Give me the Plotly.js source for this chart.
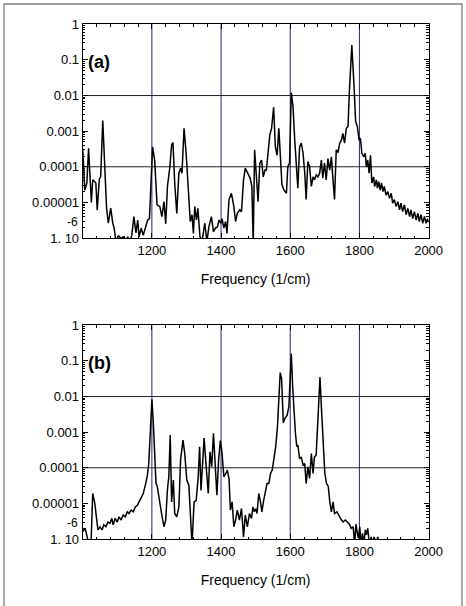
<!DOCTYPE html>
<html>
<head>
<meta charset="utf-8">
<script src="https://cdn.plot.ly/plotly-3.0.1.min.js"></script>
<style>html,body{margin:0;padding:0;background:#fff;}#chart{width:466px;height:606px;}</style>
</head>
<body>
<div id="chart"></div>
<script>
// ---------- data ----------
const freqA = [1000,1006,1012,1017,1025,1029,1038,1042,1048,1052,1058,1064,1069,1074,1081,1087,1091,1096,1103,1110,1117,1123,1130,1137,1142,1148,1154,1159,1163,1169,1175,1181,1188,1193,1202,1208,1215,1223,1229,1235,1240,1245,1252,1257,1261,1266,1272,1278,1283,1287,1293,1299,1305,1311,1316,1320,1324,1329,1333,1339,1345,1353,1359,1365,1372,1378,1384,1390,1394,1399,1403,1408,1413,1417,1423,1430,1437,1442,1447,1454,1459,1465,1470,1478,1484,1489,1493,1497,1502,1507,1512,1517,1522,1527,1531,1536,1541,1546,1552,1557,1562,1567,1571,1576,1582,1589,1593,1598,1603,1608,1613,1618,1622,1627,1632,1637,1642,1646,1651,1656,1661,1666,1670,1675,1680,1685,1690,1694,1699,1704,1709,1714,1719,1723,1728,1733,1738,1743,1748,1752,1757,1762,1767,1771,1778,1784,1789,1794,1799,1803,1807,1813,1817,1820,1824,1828,1832,1836,1841,1844,1849,1852,1856,1860,1864,1868,1872,1877,1882,1887,1892,1896,1901,1906,1911,1916,1920,1925,1930,1935,1940,1945,1949,1954,1959,1964,1969,1973,1978,1983,1988,1993,1997,2000];
const intensityA = [3.3e-4,2.2e-5,3.5e-5,3.3e-4,1.0e-5,4.3e-5,3.5e-5,6e-6,4.5e-5,5.2e-5,2.0e-3,5.2e-5,6.9e-6,2.6e-6,6.9e-6,2.6e-6,1.9e-6,8e-7,1.15e-6,1.0e-6,1.07e-6,8e-7,1.07e-6,8e-7,1.2e-6,4.0e-6,1.4e-6,3.2e-6,1.07e-6,1.9e-6,1.2e-6,1.9e-6,3.2e-6,3.5e-6,3.6e-4,1.55e-4,8.5e-6,7.6e-6,4.0e-6,1.05e-5,2.5e-6,2.8e-5,1.0e-4,4.1e-4,4.8e-4,3.5e-5,4.9e-6,6.6e-5,9.1e-5,6.6e-5,1.2e-3,2.4e-4,1.8e-5,2.9e-6,4.5e-6,1.35e-6,7.6e-6,3.2e-6,6.8e-6,1.1e-6,8e-7,2.6e-6,8e-7,2.1e-6,4.0e-6,1.5e-6,1.9e-6,2.1e-6,3.2e-6,2.6e-6,3.5e-6,1.9e-6,2.9e-6,1.35e-6,1.2e-5,1.8e-5,7.6e-6,2.9e-6,4.9e-6,6.2e-6,5.5e-6,4.3e-5,9.1e-5,6.6e-5,4.8e-5,2.8e-5,7e-7,3.0e-4,5.2e-5,1.05e-5,1.26e-4,1.55e-4,5.2e-5,8.1e-5,8.1e-5,2.4e-4,7.8e-4,1.2e-3,4.7e-3,3.6e-4,2.1e-4,1.2e-3,2.4e-4,3.1e-5,2.2e-5,1.8e-5,1.0e-4,1.26e-4,1.2e-2,4.9e-3,5.6e-4,8.1e-5,2.5e-5,3.6e-4,4.6e-4,2.4e-4,6.6e-5,1.2e-5,1.4e-4,1.0e-4,2.8e-5,5.2e-5,4.3e-5,5.9e-5,5.2e-5,6.6e-5,1.55e-4,4.8e-5,1.26e-4,4.3e-5,1.7e-4,8.1e-5,1.9e-4,5.2e-5,1.2e-5,3.0e-4,2.5e-4,4.6e-4,5.6e-4,8.7e-4,4.6e-4,1.2e-3,1.35e-3,1.3e-2,0.26,2.2e-2,1.9e-3,1.35e-3,5.6e-4,6.3e-4,2.4e-4,1.9e-4,2.4e-4,1.0e-4,1.55e-4,6.6e-5,2.1e-4,3.5e-5,5.2e-5,2.8e-5,4.3e-5,2.5e-5,3.8e-5,2.2e-5,3.5e-5,2.0e-5,2.8e-5,1.6e-5,2.0e-5,1.3e-5,1.8e-5,9.5e-6,1.2e-5,7.6e-6,1.05e-5,6.2e-6,9.5e-6,5.5e-6,8.5e-6,4.5e-6,6.8e-6,4.0e-6,6.2e-6,3.5e-6,5.5e-6,3.2e-6,4.9e-6,2.9e-6,4.5e-6,2.6e-6,4.0e-6,2.6e-6,3.5e-6,2.8e-6];

const freqB = [1000,1007,1013,1018,1024,1029,1035,1040,1044,1050,1056,1061,1067,1073,1079,1084,1088,1094,1100,1105,1111,1117,1123,1129,1134,1140,1146,1152,1158,1163,1169,1175,1181,1187,1191,1195,1200,1204,1207,1212,1215,1221,1228,1235,1240,1245,1249,1253,1257,1262,1266,1272,1278,1283,1290,1295,1301,1307,1311,1316,1322,1328,1334,1338,1342,1347,1351,1357,1363,1368,1373,1378,1383,1388,1393,1398,1403,1408,1414,1418,1423,1427,1432,1437,1442,1447,1453,1459,1465,1470,1476,1482,1488,1492,1496,1500,1504,1509,1514,1518,1523,1528,1533,1538,1543,1548,1553,1558,1563,1567,1571,1575,1580,1585,1591,1596,1599,1603,1607,1611,1615,1619,1622,1627,1632,1637,1642,1646,1651,1656,1661,1666,1670,1675,1681,1686,1690,1695,1700,1705,1710,1714,1719,1724,1728,1735,1740,1743,1748,1753,1759,1765,1771,1776,1782,1786,1790,1794,1797,1801,1805,1809,1813,1817,1820,1824,1829,1834,1839,1843,1848,1853,1858,1862];
const intensityB = [1.6e-6,2.0e-6,1.15e-6,7e-7,7e-7,1.9e-5,1.0e-5,4.2e-6,1.8e-6,2.2e-6,1.8e-6,2.5e-6,2.2e-6,3.0e-6,2.75e-6,3.8e-6,2.5e-6,3.8e-6,3.0e-6,4.2e-6,3.4e-6,4.7e-6,4.2e-6,5.8e-6,5.2e-6,6.5e-6,5.8e-6,7.9e-6,8.9e-6,1.1e-5,1.4e-5,1.9e-5,3.2e-5,6.2e-5,1.3e-4,6.0e-4,8.3e-3,2.0e-3,4.0e-4,3.6e-5,3.2e-5,1.2e-5,5.2e-6,2.2e-6,3.4e-6,2.5e-5,5.6e-5,8.3e-4,1.1e-5,4.5e-5,5.2e-6,4.2e-6,7.9e-6,1.7e-4,6.0e-4,2.5e-4,4.5e-5,3.2e-5,3.4e-6,7e-7,1.1e-5,1.2e-5,5.6e-5,3.9e-4,2.3e-5,1.3e-4,6.8e-4,1.07e-4,1.9e-5,2.8e-4,1.07e-4,9.3e-4,1.07e-4,1.7e-5,1.7e-4,5.8e-4,2.5e-4,5.6e-5,6.9e-5,8.7e-5,5.0e-5,6.5e-6,1.1e-5,2.2e-6,3.4e-6,6.5e-6,3.4e-6,7.2e-6,1.15e-6,4.7e-6,2.2e-6,5.2e-6,3.8e-6,7.9e-6,5.8e-6,7.1e-6,5.2e-6,1.9e-5,1.1e-5,5.8e-6,1.2e-5,2.3e-5,3.6e-5,3.6e-5,6.9e-5,8.7e-5,2.0e-4,3.9e-4,1.4e-3,7.9e-3,4.7e-2,3.2e-2,1.8e-3,2.5e-3,3.0e-3,5.1e-3,1.9e-2,0.16,1.9e-2,2.7e-3,9.3e-4,3.9e-4,4.4e-4,1.8e-4,2.0e-4,1.2e-4,1.3e-4,3.6e-5,1.07e-4,5.0e-5,2.5e-4,6.9e-5,2.0e-4,2.3e-4,3.4e-3,3.5e-2,5.1e-3,3.9e-4,6.9e-5,3.6e-5,3.0e-5,1.2e-5,5.8e-6,1.1e-5,5.2e-6,5.8e-6,4.7e-6,3.8e-6,3.4e-6,3.0e-6,3.4e-6,3.0e-6,2.6e-6,2.0e-6,2.2e-6,7e-7,2.6e-6,1.45e-6,1.05e-6,2.2e-6,7e-7,1.45e-6,7e-7,1.8e-6,1.3e-6,2.0e-6,7e-7,1.15e-6,7e-7,1.15e-6,7e-7,1.15e-6,7e-7,5e-7];

const xTickVals = [1200, 1400, 1600, 1800, 2000];
const yTickVals = [1, 0.1, 0.01, 0.001, 0.0001, 0.00001, 0.000001];
const yTickText = ['1', '0.1', '0.01', '0.001', '0.0001', '0.00001', '1. 10'];
const yExponentText = '-6';
const xGridLines = [1200, 1400, 1600, 1800];
const yGridLines = [0.01, 0.0001];
const panelLabels = ['(a)', '(b)'];
const xTitle = 'Frequency (1/cm)';

// ---------- figure ----------
const FONT = 'Liberation Sans, Arial, Helvetica, sans-serif';
const W = 466, H = 606;
const Y_LOG_RANGE = [-6, 0];
const px2x = p => p / W;
const px2y = p => 1 - p / H;
const yFrac = v => (Math.log10(v) - Y_LOG_RANGE[0]) / (Y_LOG_RANGE[1] - Y_LOG_RANGE[0]);

function xAxis(anchor, dom) {
  return {
    anchor: anchor, domain: dom, range: [1000, 2000],
    tickmode: 'array', tickvals: xTickVals, ticktext: xTickVals.map(String),
    ticks: 'inside', ticklen: 5, tickwidth: 1, tickcolor: '#000',
    minor: {ticks: 'inside', ticklen: 2.5, tickwidth: 1, tickcolor: '#000', tickmode: 'linear', tick0: 1000, dtick: 40, showgrid: false},
    showline: true, linecolor: '#000', linewidth: 1, mirror: 'ticks',
    showgrid: false, zeroline: false,
    tickfont: {family: FONT, size: 13, color: '#000'},
    title: {text: xTitle, font: {family: FONT, size: 14, color: '#000'}, standoff: 17}
  };
}
function yAxis(anchor, dom) {
  return {
    anchor: anchor, domain: dom, type: 'log', range: Y_LOG_RANGE,
    tickmode: 'array', tickvals: yTickVals, ticktext: yTickText,
    ticks: 'inside', ticklen: 5, tickwidth: 1, tickcolor: '#000',
    minor: {ticks: 'inside', ticklen: 2.5, tickwidth: 1, tickcolor: '#000', dtick: 'D1', showgrid: false},
    showline: true, linecolor: '#000', linewidth: 1, mirror: 'ticks',
    showgrid: false, zeroline: false,
    tickfont: {family: FONT, size: 13, color: '#000'}
  };
}

const xDom = [px2x(82.7), px2x(428.6)];
const yDomA = [px2y(238), px2y(24.3)];
const yDomB = [px2y(539), px2y(325.3)];

const traces = [
  {x: freqA, y: intensityA, xaxis: 'x', yaxis: 'y', type: 'scatter', mode: 'lines', line: {color: '#000', width: 1.5}, hoverinfo: 'skip'},
  {x: freqB, y: intensityB, xaxis: 'x2', yaxis: 'y2', type: 'scatter', mode: 'lines', line: {color: '#000', width: 1.5}, hoverinfo: 'skip'}
];

const shapes = [];
[['x', 'y'], ['x2', 'y2']].forEach(([xa, ya]) => {
  xGridLines.forEach(v => shapes.push({type: 'line', layer: 'below', xref: xa, yref: ya + ' domain', x0: v, x1: v, y0: 0, y1: 1, line: {color: '#22228a', width: 1}}));
  yGridLines.forEach(v => shapes.push({type: 'line', layer: 'below', xref: xa + ' domain', yref: ya + ' domain', x0: 0, x1: 1, y0: yFrac(v), y1: yFrac(v), line: {color: '#222', width: 1}}));
});
shapes.push({type: 'rect', xref: 'paper', yref: 'paper', x0: px2x(4), x1: px2x(462), y0: -0.05, y1: px2y(4), line: {color: '#808080', width: 1.3}, fillcolor: 'rgba(0,0,0,0)'});

const annotations = [
  {text: '<b>' + panelLabels[0] + '</b>', xref: 'paper', yref: 'paper', x: px2x(86), y: px2y(62.3), xanchor: 'left', yanchor: 'middle', showarrow: false, font: {family: FONT, size: 18, color: '#000'}},
  {text: '<b>' + panelLabels[1] + '</b>', xref: 'paper', yref: 'paper', x: px2x(86), y: px2y(363.3), xanchor: 'left', yanchor: 'middle', showarrow: false, font: {family: FONT, size: 18, color: '#000'}},
  {text: yExponentText, xref: 'paper', yref: 'paper', x: px2x(79), y: px2y(230), xanchor: 'right', yanchor: 'bottom', borderpad: 0, showarrow: false, font: {family: FONT, size: 12, color: '#000'}},
  {text: yExponentText, xref: 'paper', yref: 'paper', x: px2x(79), y: px2y(531), xanchor: 'right', yanchor: 'bottom', borderpad: 0, showarrow: false, font: {family: FONT, size: 12, color: '#000'}}
];

const layout = {
  width: W, height: H,
  margin: {l: 0, r: 0, t: 0, b: 0},
  paper_bgcolor: '#fff', plot_bgcolor: '#fff',
  showlegend: false,
  font: {family: FONT, size: 13, color: '#000'},
  xaxis: xAxis('y', xDom),
  yaxis: yAxis('x', yDomA),
  xaxis2: xAxis('y2', xDom),
  yaxis2: yAxis('x2', yDomB),
  shapes: shapes,
  annotations: annotations
};

Plotly.newPlot('chart', traces, layout, {displayModeBar: false, staticPlot: true});
</script>
</body>
</html>
